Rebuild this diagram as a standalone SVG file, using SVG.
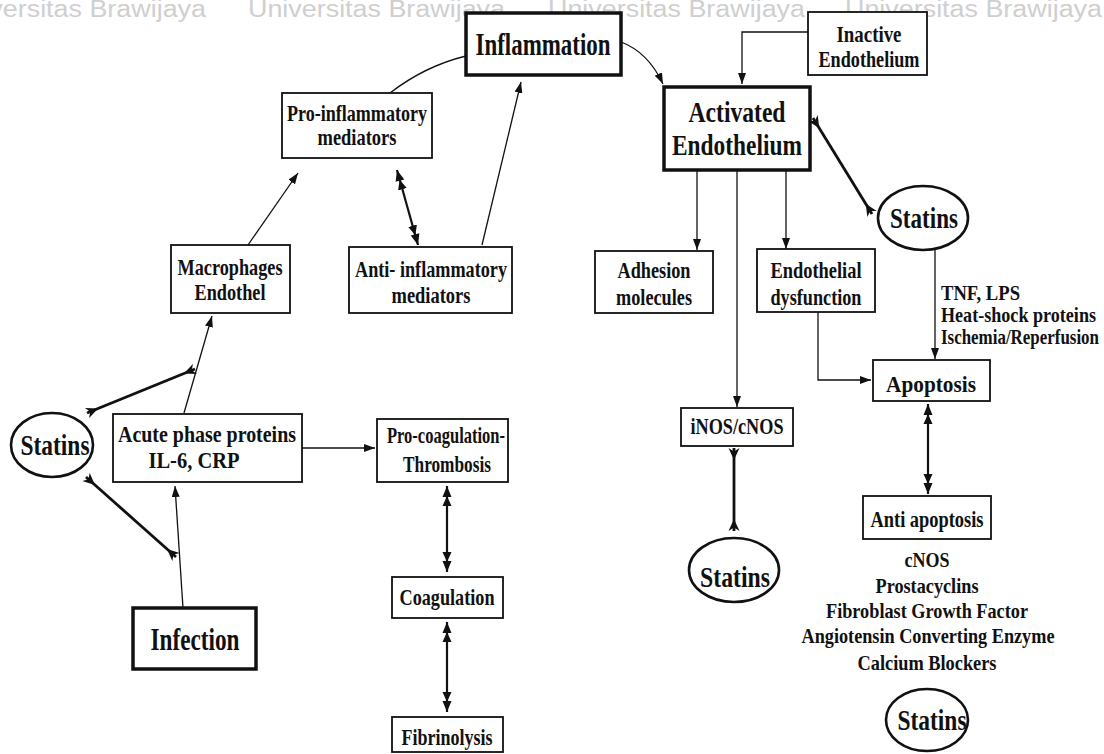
<svg xmlns="http://www.w3.org/2000/svg" width="1104" height="754" viewBox="0 0 1104 754">
  <style>
    .wm { font-family: "Liberation Sans", Arial, sans-serif; font-size: 23px; fill: #cfcfcf; }
    .box { fill: #fff; stroke: #111; stroke-width: 1.8; }
    .thick { fill: #fff; stroke: #111; stroke-width: 3.5; }
    .oval { fill: #fff; stroke: #111; stroke-width: 2.6; }
    .t { font-family: "Liberation Serif", "Times New Roman", serif; font-weight: bold; fill: #111; text-anchor: middle; }
    .s20 { font-size: 21px; }
    .s22 { font-size: 24px; }
    .s29 { font-size: 30px; }
    .s31 { font-size: 32px; }
    .ln { fill: none; stroke: #111; stroke-width: 1.3; }
    .dbl { fill: none; stroke: #111; stroke-width: 2.2; }
    .inh { fill: none; stroke: #111; stroke-width: 2.8; }
  </style>
  <defs>
    <marker id="arr" markerUnits="userSpaceOnUse" viewBox="0 0 11 8" refX="11" refY="4" markerWidth="11" markerHeight="8" orient="auto">
      <path d="M0,0 L11,4 L0,8 Z" fill="#111"/>
    </marker>
    <marker id="dblE" markerUnits="userSpaceOnUse" viewBox="0 0 20 10" refX="20" refY="5" markerWidth="20" markerHeight="10" orient="auto">
      <path d="M0,0.5 L10,5 L0,9.5 Z M9,0.5 L20,5 L9,9.5 Z" fill="#111"/>
    </marker>
    <marker id="dblS" markerUnits="userSpaceOnUse" viewBox="0 0 20 10" refX="0" refY="5" markerWidth="20" markerHeight="10" orient="auto">
      <path d="M20,0.5 L10,5 L20,9.5 Z M11,0.5 L0,5 L11,9.5 Z" fill="#111"/>
    </marker>
    <!-- notched heads used on the statin links -->
    <marker id="statS" markerUnits="userSpaceOnUse" viewBox="0 0 12 12" refX="0" refY="6" markerWidth="12" markerHeight="12" orient="auto">
      <path d="M0,0.5 L12,6 L0,11.5 L3.5,6 Z" fill="#111"/>
    </marker>
    <marker id="statE" markerUnits="userSpaceOnUse" viewBox="0 0 12 12" refX="12" refY="6" markerWidth="12" markerHeight="12" orient="auto">
      <path d="M12,0.5 L0,6 L12,11.5 L8.5,6 Z" fill="#111"/>
    </marker>
  </defs>

  <rect width="1104" height="754" fill="#fff"/>

  <!-- watermark strip -->
  <g id="watermark">
    <text class="wm" x="-51" y="17" textLength="257" lengthAdjust="spacingAndGlyphs">Universitas Brawijaya</text>
    <text class="wm" x="248" y="17" textLength="257" lengthAdjust="spacingAndGlyphs">Universitas Brawijaya</text>
    <text class="wm" x="548" y="17" textLength="257" lengthAdjust="spacingAndGlyphs">Universitas Brawijaya</text>
    <text class="wm" x="845" y="17" textLength="257" lengthAdjust="spacingAndGlyphs">Universitas Brawijaya</text>
  </g>

  <!-- connectors -->
  <g id="connectors">
    <path class="ln" d="M390,93 Q425,66 466,56"/>
    <path class="ln" d="M621,42 Q648,52 663,84" marker-end="url(#arr)"/>
    <path class="ln" d="M808,32 H742 V84" marker-end="url(#arr)"/>
    <path class="ln" d="M482,245 L521,82" marker-end="url(#arr)"/>
    <path class="dbl" d="M397,170 L418,245" marker-start="url(#dblS)" marker-end="url(#dblE)"/>
    <path class="ln" d="M248,245 L298,173" marker-end="url(#arr)"/>
    <path class="ln" d="M184,413 L212,316" marker-end="url(#arr)"/>
    <path class="ln" d="M183,608 L175,486" marker-end="url(#arr)"/>
    <path class="ln" d="M302,448 H375" marker-end="url(#arr)"/>
    <path class="dbl" d="M447,486 V572" marker-start="url(#dblS)" marker-end="url(#dblE)"/>
    <path class="dbl" d="M447,622 V712" marker-start="url(#dblS)" marker-end="url(#dblE)"/>
    <path class="inh" d="M87,413 L195,369" marker-start="url(#statS)" marker-end="url(#statE)"/>
    <path class="inh" d="M86,477 L176,557" marker-start="url(#statS)" marker-end="url(#statE)"/>

    <path class="ln" d="M697,171 V250" marker-end="url(#arr)"/>
    <path class="ln" d="M786,171 V249" marker-end="url(#arr)"/>
    <path class="ln" d="M737,171 V407" marker-end="url(#arr)"/>
    <path class="inh" d="M734,448 V531" marker-start="url(#statS)" marker-end="url(#statE)"/>
    <path class="inh" d="M813,118 L872,214" marker-start="url(#statS)" marker-end="url(#statE)"/>
    <path class="ln" d="M818,312 V380 H871" marker-end="url(#arr)"/>
    <path class="ln" d="M935,250 V359" marker-end="url(#arr)"/>
    <path class="dbl" d="M928,404 V494" marker-start="url(#dblS)" marker-end="url(#dblE)"/>
  </g>

  <g id="inflammation">
    <rect class="thick" x="466" y="13" width="155" height="62"/>
    <text class="t s31" x="543" y="55" textLength="135" lengthAdjust="spacingAndGlyphs">Inflammation</text>
  </g>

  <g id="inactive-endothelium">
    <rect class="box" x="808" y="12" width="119" height="63"/>
    <text class="t s22" x="869" y="42" textLength="65" lengthAdjust="spacingAndGlyphs">Inactive</text>
    <text class="t s22" x="869" y="67" textLength="101" lengthAdjust="spacingAndGlyphs">Endothelium</text>
  </g>

  <g id="activated-endothelium">
    <rect class="thick" x="664" y="87" width="146" height="83"/>
    <text class="t s29" x="737" y="122" textLength="97" lengthAdjust="spacingAndGlyphs">Activated</text>
    <text class="t s29" x="737" y="155" textLength="130" lengthAdjust="spacingAndGlyphs">Endothelium</text>
  </g>

  <g id="pro-inflammatory">
    <rect class="box" x="282" y="93" width="150" height="65"/>
    <text class="t s22" x="357" y="121" textLength="140" lengthAdjust="spacingAndGlyphs">Pro-inflammatory</text>
    <text class="t s22" x="357" y="145" textLength="79" lengthAdjust="spacingAndGlyphs">mediators</text>
  </g>

  <g id="anti-inflammatory">
    <rect class="box" x="349" y="247" width="163" height="66"/>
    <text class="t s22" x="431" y="277" textLength="152" lengthAdjust="spacingAndGlyphs">Anti- inflammatory</text>
    <text class="t s22" x="431" y="303" textLength="79" lengthAdjust="spacingAndGlyphs">mediators</text>
  </g>

  <g id="macrophages">
    <rect class="box" x="171" y="245" width="119" height="68"/>
    <text class="t s22" x="230" y="275" textLength="105" lengthAdjust="spacingAndGlyphs">Macrophages</text>
    <text class="t s22" x="230" y="300" textLength="71" lengthAdjust="spacingAndGlyphs">Endothel</text>
  </g>

  <g id="statins-left">
    <ellipse class="oval" cx="52" cy="445" rx="41" ry="32"/>
    <text class="t s29" x="55" y="455" textLength="69" lengthAdjust="spacingAndGlyphs">Statins</text>
  </g>

  <g id="acute-phase">
    <rect class="box" x="113" y="414" width="189" height="68"/>
    <text class="t s22" x="207" y="442" textLength="178" lengthAdjust="spacingAndGlyphs">Acute phase proteins</text>
    <text class="t s22" x="194" y="468" textLength="91" lengthAdjust="spacingAndGlyphs">IL-6, CRP</text>
  </g>

  <g id="infection">
    <rect class="thick" x="133" y="608" width="123" height="61"/>
    <text class="t s31" x="195" y="650" textLength="89" lengthAdjust="spacingAndGlyphs">Infection</text>
  </g>

  <g id="pro-coagulation">
    <rect class="box" x="377" y="419" width="131" height="63"/>
    <text class="t s22" x="446" y="443" textLength="118" lengthAdjust="spacingAndGlyphs">Pro-coagulation-</text>
    <text class="t s22" x="447" y="472" textLength="88" lengthAdjust="spacingAndGlyphs">Thrombosis</text>
  </g>

  <g id="coagulation">
    <rect class="box" x="392" y="577" width="111" height="41"/>
    <text class="t s22" x="447" y="605" textLength="95" lengthAdjust="spacingAndGlyphs">Coagulation</text>
  </g>

  <g id="fibrinolysis">
    <rect class="box" x="392" y="717" width="111" height="35"/>
    <text class="t s22" x="447" y="745" textLength="91" lengthAdjust="spacingAndGlyphs">Fibrinolysis</text>
  </g>

  <g id="adhesion">
    <rect class="box" x="595" y="251" width="118" height="62"/>
    <text class="t s22" x="654" y="278" textLength="73" lengthAdjust="spacingAndGlyphs">Adhesion</text>
    <text class="t s22" x="654" y="305" textLength="76" lengthAdjust="spacingAndGlyphs">molecules</text>
  </g>

  <g id="endothelial-dysfunction">
    <rect class="box" x="757" y="249" width="118" height="63"/>
    <text class="t s22" x="816" y="278" textLength="91" lengthAdjust="spacingAndGlyphs">Endothelial</text>
    <text class="t s22" x="816" y="305" textLength="91" lengthAdjust="spacingAndGlyphs">dysfunction</text>
  </g>

  <g id="nos">
    <rect class="box" x="681" y="408" width="112" height="38"/>
    <text class="t s22" x="737" y="434" textLength="93" lengthAdjust="spacingAndGlyphs">iNOS/cNOS</text>
  </g>

  <g id="statins-nos">
    <ellipse class="oval" cx="734" cy="570" rx="45" ry="32"/>
    <text class="t s29" x="735" y="587" textLength="70" lengthAdjust="spacingAndGlyphs">Statins</text>
  </g>

  <g id="statins-top">
    <ellipse class="oval" cx="923" cy="218" rx="45" ry="32"/>
    <text class="t s29" x="924" y="228" textLength="68" lengthAdjust="spacingAndGlyphs">Statins</text>
  </g>

  <g id="triggers">
    <text class="t s20" x="941" y="300" style="text-anchor:start" textLength="79" lengthAdjust="spacingAndGlyphs">TNF, LPS</text>
    <text class="t s20" x="941" y="322" style="text-anchor:start" textLength="155" lengthAdjust="spacingAndGlyphs">Heat-shock  proteins</text>
    <text class="t s20" x="941" y="344" style="text-anchor:start" textLength="158" lengthAdjust="spacingAndGlyphs">Ischemia/Reperfusion</text>
  </g>

  <g id="apoptosis">
    <rect class="box" x="873" y="360" width="117" height="41"/>
    <text class="t s22" x="931" y="392" textLength="90" lengthAdjust="spacingAndGlyphs">Apoptosis</text>
  </g>

  <g id="anti-apoptosis">
    <rect class="box" x="863" y="496" width="128" height="43"/>
    <text class="t s22" x="927" y="527" textLength="113" lengthAdjust="spacingAndGlyphs">Anti apoptosis</text>
  </g>

  <g id="anti-apoptosis-factors">
    <text class="t s20" x="927" y="567" textLength="45" lengthAdjust="spacingAndGlyphs">cNOS</text>
    <text class="t s20" x="927" y="593" textLength="103" lengthAdjust="spacingAndGlyphs">Prostacyclins</text>
    <text class="t s20" x="927" y="618" textLength="202" lengthAdjust="spacingAndGlyphs">Fibroblast Growth Factor</text>
    <text class="t s20" x="928" y="643" textLength="253" lengthAdjust="spacingAndGlyphs">Angiotensin Converting Enzyme</text>
    <text class="t s20" x="927" y="670" textLength="139" lengthAdjust="spacingAndGlyphs">Calcium Blockers</text>
  </g>

  <g id="statins-bottom">
    <ellipse class="oval" cx="927" cy="720" rx="41" ry="31"/>
    <text class="t s29" x="932" y="730" textLength="69" lengthAdjust="spacingAndGlyphs">Statins</text>
  </g>
</svg>
